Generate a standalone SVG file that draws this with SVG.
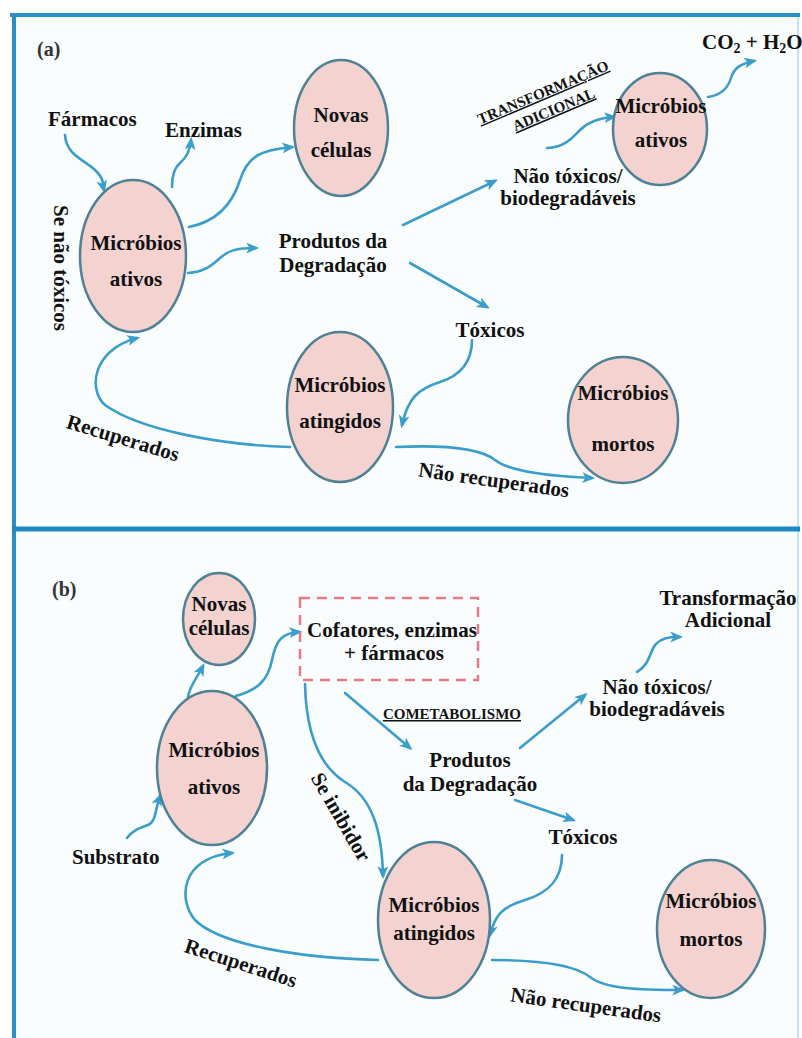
<svg xmlns="http://www.w3.org/2000/svg" width="802" height="1038" viewBox="0 0 802 1038">
<style>
text{font-family:"Liberation Serif","Times New Roman",serif;font-weight:bold;fill:#111;font-size:21px}
.c{text-anchor:middle}
.node ellipse{fill:#f3d2d0;stroke:#4f8196;stroke-width:2.5}
.conn path{fill:none;stroke:#3a9dca;stroke-width:2.6;stroke-linecap:round;marker-end:url(#ah)}
.sm{font-size:15px;text-decoration:underline}
.lab{font-size:20px;fill:#333}
</style>
<defs>
<marker id="ah" viewBox="0 0 12 10" refX="9" refY="5" markerWidth="13" markerHeight="11" orient="auto" markerUnits="userSpaceOnUse">
<path d="M0,0 L12,5 L0,10 L3,5 Z" fill="#3a9dca"/>
</marker>
</defs>
<rect x="0" y="0" width="802" height="1038" fill="#ffffff"/>
<g id="frame">
<rect x="14" y="15" width="784" height="514" fill="#fafdfe"/>
<rect x="14" y="529" width="784" height="520" fill="#fafdfe"/>
<line x1="10" y1="15" x2="800" y2="15" stroke="#2a8fc6" stroke-width="4"/>
<line x1="14" y1="13" x2="14" y2="1038" stroke="#2a8fc6" stroke-width="4"/>
<line x1="798" y1="17" x2="798" y2="1038" stroke="#bfe3f2" stroke-width="2"/>
<line x1="12" y1="529" x2="800" y2="529" stroke="#1f88c3" stroke-width="5"/>
</g>

<g id="connectors" class="conn">
<path d="M65,135 C66,155 85,160 95,170 S102,182 104,190"/>
<path d="M172,187 C172,175 174,168 180,163 S190,152 191,140"/>
<path d="M189,227 C215,222 232,205 240,180 S262,150 292,147"/>
<path d="M188,273 C205,272 212,265 220,258 S235,248 256,248"/>
<path d="M403,225 L495,181"/>
<path d="M410,263 L487,307"/>
<path d="M472,340 C472,360 462,375 440,382 S408,398 402,425"/>
<path d="M290,447 C220,445 140,430 105,405 C88,390 92,350 137,338"/>
<path d="M396,447 C440,445 480,448 495,460 S550,476 592,478"/>
<path d="M547,148 C565,147 572,138 580,130 S598,118 614,117"/>
<path d="M708,97 C722,95 728,88 731,78 S740,64 754,61"/>
<path d="M188,697 C190,685 196,680 203,666"/>
<path d="M236,696 C258,690 268,680 272,660 S282,633 299,632"/>
<path d="M345,693 L410,748"/>
<path d="M305,684 C306,730 318,765 345,782 C372,798 382,830 383,876"/>
<path d="M520,748 L585,695"/>
<path d="M637,672 C650,665 650,650 656,644 S668,637 680,637"/>
<path d="M515,800 L573,820"/>
<path d="M562,855 C562,880 548,893 525,900 S495,915 490,935"/>
<path d="M378,960 C300,958 220,945 195,920 C178,900 180,858 232,853"/>
<path d="M127,838 C133,830 140,828 148,825 S155,810 160,796"/>
<path d="M492,960 C540,960 575,965 590,977 S640,990 682,990"/>
</g>

<g id="panel-a-labels">
<text class="lab" x="37" y="56">(a)</text>
<text x="48" y="126">Fármacos</text>
<text x="165" y="137">Enzimas</text>
<text class="c" x="333" y="248">Produtos da</text>
<text class="c" x="333" y="272">Degradação</text>
<text class="c" x="490" y="337">Tóxicos</text>
<text class="c" x="568" y="183">Não tóxicos/</text>
<text class="c" x="568" y="205">biodegradáveis</text>
<text x="702" y="49">CO<tspan font-size="14" dy="4">2</tspan><tspan dy="-4"> + H</tspan><tspan font-size="14" dy="4">2</tspan><tspan dy="-4">O</tspan></text>
<g transform="translate(545,97) rotate(-23)">
<text class="c sm" x="0" y="0">TRANSFORMAÇÃO</text>
<text class="c sm" x="3" y="20">ADICIONAL</text>
</g>
<text class="c" transform="translate(54,268) rotate(90)">Se não tóxicos</text>
<text class="c" transform="translate(123,438) rotate(17)" y="7">Recuperados</text>
<text class="c" transform="translate(494,480) rotate(8)" y="7">Não recuperados</text>
</g>

<g id="a-microbios-ativos" class="node">
<ellipse cx="133" cy="256" rx="53" ry="76"/>
<text class="c" x="136" y="250">Micróbios</text>
<text class="c" x="136" y="286">ativos</text>
</g>
<g id="a-novas-celulas" class="node">
<ellipse cx="341" cy="128" rx="47" ry="68"/>
<text class="c" x="341" y="122">Novas</text>
<text class="c" x="341" y="157">células</text>
</g>
<g id="a-microbios-ativos-2" class="node">
<ellipse cx="660" cy="129" rx="47" ry="56"/>
<text class="c" x="661" y="113">Micróbios</text>
<text class="c" x="661" y="147">ativos</text>
</g>
<g id="a-microbios-atingidos" class="node">
<ellipse cx="340" cy="407" rx="53" ry="75"/>
<text class="c" x="340" y="392">Micróbios</text>
<text class="c" x="340" y="428">atingidos</text>
</g>
<g id="a-microbios-mortos" class="node">
<ellipse cx="623" cy="420" rx="55" ry="63"/>
<text class="c" x="623" y="400">Micróbios</text>
<text class="c" x="623" y="451">mortos</text>
</g>

<g id="panel-b-labels">
<text class="lab" x="52" y="596">(b)</text>
<text x="72" y="864">Substrato</text>
<text class="c" x="470" y="767">Produtos</text>
<text class="c" x="470" y="791">da Degradação</text>
<text class="c sm" x="452" y="719">COMETABOLISMO</text>
<text class="c" x="583" y="844">Tóxicos</text>
<text class="c" x="657" y="694">Não tóxicos/</text>
<text class="c" x="657" y="716">biodegradáveis</text>
<text class="c" x="728" y="605">Transformação</text>
<text class="c" x="728" y="627">Adicional</text>
<text class="c" transform="translate(341,817) rotate(60)" y="7">Se inibidor</text>
<text class="c" transform="translate(241,963) rotate(18)" y="7">Recuperados</text>
<text class="c" transform="translate(586,1005) rotate(8)" y="7">Não recuperados</text>
</g>

<g id="b-cofatores">
<rect x="300" y="598" width="178" height="82" fill="none" stroke="#e57a86" stroke-width="2.5" stroke-dasharray="10,7"/>
<text class="c" x="392" y="637">Cofatores, enzimas</text>
<text class="c" x="394" y="660">+ fármacos</text>
</g>
<g id="b-novas-celulas" class="node">
<ellipse cx="219" cy="619" rx="36" ry="46"/>
<text class="c" x="219" y="611">Novas</text>
<text class="c" x="219" y="635">células</text>
</g>
<g id="b-microbios-ativos" class="node">
<ellipse cx="212" cy="768" rx="55" ry="77"/>
<text class="c" x="214" y="757">Micróbios</text>
<text class="c" x="214" y="794">ativos</text>
</g>
<g id="b-microbios-atingidos" class="node">
<ellipse cx="434" cy="920" rx="56" ry="78"/>
<text class="c" x="434" y="912">Micróbios</text>
<text class="c" x="434" y="940">atingidos</text>
</g>
<g id="b-microbios-mortos" class="node">
<ellipse cx="711" cy="929" rx="54" ry="69"/>
<text class="c" x="711" y="908">Micróbios</text>
<text class="c" x="711" y="946">mortos</text>
</g>
</svg>
